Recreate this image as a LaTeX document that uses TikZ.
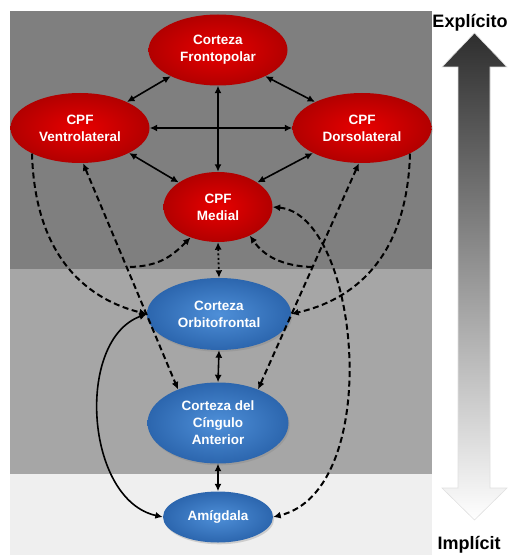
\documentclass[tikz,border=0pt]{standalone}
\usepackage{fontspec}
\setmainfont{Liberation Sans}
\usepackage{tikz}
\usetikzlibrary{arrows.meta, shapes.geometric, shadows}
\definecolor{bandtop}{HTML}{7F7F7F}
\definecolor{bandmid}{HTML}{A6A6A6}
\definecolor{bandlow}{HTML}{EFEFEF}
\definecolor{rojoin}{HTML}{E80000}
\definecolor{rojoout}{HTML}{B20000}
\definecolor{azulin}{HTML}{4E8FD8}
\definecolor{azulout}{HTML}{2C66AE}
\tikzset{
  region/.style={ellipse, inner sep=0pt, text=white, align=center,
    font=\fontsize{13.5}{17}\selectfont\bfseries,
    drop shadow={shadow xshift=1.2pt, shadow yshift=-1.8pt, opacity=0.3}},
  rojo/.style={region, inner color=rojoin, outer color=rojoout},
  azul/.style={region, inner color=azulin, outer color=azulout},
  enlace/.style={line width=1.6pt, <->},
  discont/.style={line width=2pt, dash pattern=on 6pt off 3.5pt},
  punteado/.style={line width=1.8pt, dash pattern=on 2pt off 2.5pt, <->}
}

\begin{document}
\begin{tikzpicture}[x=1pt, y=-1pt, >={Latex[length=7.5pt,width=7pt]}]
  \useasboundingbox (0,0) rectangle (508,556);
  \fill [bandtop] (10,11) rectangle (432,269);
  \fill [bandmid] (10,269) rectangle (432,474);
  \fill [bandlow] (10,474) rectangle (432,555);

  \shade [top color=black!82, bottom color=white, draw=black!12, line width=0.6pt]
    (474.5,33) -- (507,67) -- (490,67) -- (490,488) -- (507,488) -- (474.5,520)
    -- (442,488) -- (458,488) -- (458,67) -- (442,67) -- cycle;
  \node (explicito) at (470,23) {\fontsize{18}{20}\selectfont\bfseries Explícito};
  \node (implicito) at (469,545) {\fontsize{18}{20}\selectfont\bfseries Implícit};

  \node (front) at (218,50) [rojo, minimum width=139pt, minimum height=71pt] {Corteza\\Frontopolar};
  \node (ventro) at (80,128) [rojo, minimum width=139pt, minimum height=70pt] {CPF\\Ventrolateral};
  \node (dorso) at (362,128) [rojo, minimum width=139pt, minimum height=70pt] {CPF\\Dorsolateral};
  \node (medial) at (218,207) [rojo, minimum width=109pt, minimum height=70pt] {CPF\\Medial};
  \node (orbito) at (219,314) [azul, minimum width=144pt, minimum height=72pt] {Corteza\\Orbitofrontal};
  \node (cingulo) at (218,423) [azul, minimum width=141pt, minimum height=81pt] {Corteza del\\Cíngulo\\Anterior};
  \node (amigdala) at (218,517) [azul, minimum width=110pt, minimum height=51pt] {Amígdala};

  \coordinate (libreizq) at (130,267);
  \coordinate (librecha) at (312,267);

  \draw [enlace] (front.209) -- (ventro.29);
  \draw [enlace] (front.331) -- (dorso.151);
  \draw [enlace] (front.south) -- (medial.north);
  \draw [enlace] (ventro.east) -- (dorso.west);
  \draw [enlace] (ventro.333) -- (medial.148);
  \draw [enlace] (dorso.207) -- (medial.32);
  \draw [punteado] (medial.south) -- (orbito.north);
  \draw [enlace] (orbito.south) -- (cingulo.north);
  \draw [enlace] (cingulo.south) -- (amigdala.north);
  \draw [enlace] (orbito.west) .. controls (75,340) and (85,500) .. (amigdala.west);

  \draw [discont, ->] (ventro.208) .. controls (35,260) and (90,300) .. (orbito.west);
  \draw [discont, ->] (dorso.332) .. controls (407,260) and (352,300) .. (orbito.east);
  \draw [discont, <->] (ventro.275) -- (cingulo.140);
  \draw [discont, <->] (dorso.265) -- (cingulo.40);
  \draw [discont, ->] (libreizq) .. controls (160,266) and (172,256) .. (medial.228);
  \draw [discont, ->] (librecha) .. controls (282,266) and (264,256) .. (medial.318);
  \draw [discont, <->] (medial.east) .. controls (360,215) and (385,490) .. (amigdala.east);
\end{tikzpicture}
\end{document}
